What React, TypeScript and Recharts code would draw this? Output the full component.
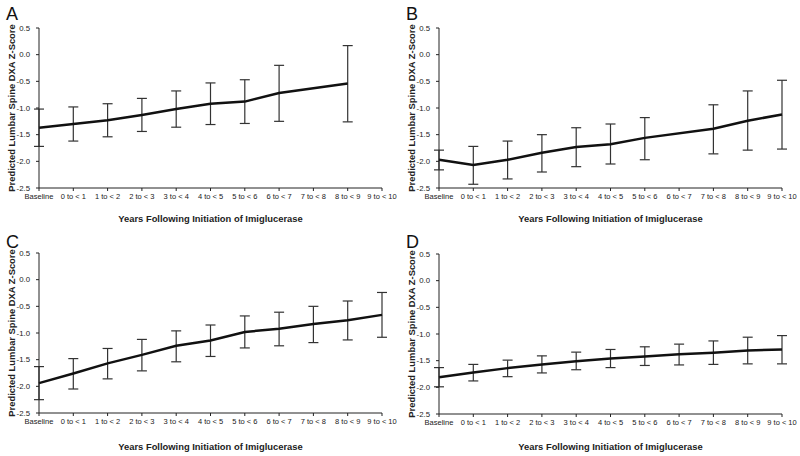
import React from 'react';
import { LineChart, Line, XAxis, YAxis, ErrorBar } from 'recharts';

const categories = ['Baseline', '0  to < 1', '1  to < 2', '2  to < 3', '3  to < 4', '4  to < 5', '5  to < 6', '6  to < 7', '7  to < 8', '8  to < 9', '9  to < 10'];
const yTicks = [-2.5, -2.0, -1.5, -1.0, -0.5, 0.0, 0.5];

// A
const meanA = [-1.37, -1.3, -1.23, -1.13, -1.02, -0.92, -0.88, -0.72, null, -0.54, null];
const lowA = [-1.72, -1.62, -1.54, -1.44, -1.36, -1.31, -1.29, -1.25, null, -1.26, null];
const highA = [-1.02, -0.98, -0.92, -0.82, -0.68, -0.53, -0.47, -0.2, null, 0.17, null];

// B
const meanB = [-1.97, -2.07, -1.97, -1.84, -1.73, -1.68, -1.56, null, -1.39, -1.24, -1.12];
const lowB = [-2.16, -2.43, -2.33, -2.2, -2.1, -2.05, -1.97, null, -1.86, -1.79, -1.77];
const highB = [-1.79, -1.72, -1.62, -1.5, -1.37, -1.3, -1.18, null, -0.94, -0.68, -0.48];

// C
const meanC = [-1.94, -1.76, -1.57, -1.41, -1.24, -1.14, -0.98, -0.92, -0.83, -0.76, -0.66];
const lowC = [-2.25, -2.05, -1.86, -1.71, -1.54, -1.44, -1.28, -1.24, -1.18, -1.13, -1.08];
const highC = [-1.63, -1.48, -1.29, -1.12, -0.96, -0.85, -0.68, -0.61, -0.5, -0.4, -0.24];

// D
const meanD = [-1.81, -1.72, -1.64, -1.57, -1.51, -1.46, -1.42, -1.38, -1.35, -1.31, -1.29];
const lowD = [-1.99, -1.88, -1.8, -1.73, -1.67, -1.63, -1.59, -1.58, -1.57, -1.56, -1.56];
const highD = [-1.63, -1.57, -1.49, -1.41, -1.34, -1.29, -1.24, -1.19, -1.13, -1.06, -1.03];

const font = '"Liberation Sans", Arial, sans-serif';

const buildData = (mean: (number | null)[], low: (number | null)[], high: (number | null)[]) =>
  categories.map((c, i) => {
    const m = mean[i];
    const l = low[i];
    const h = high[i];
    return {
      cat: c,
      mean: m,
      err: m == null || l == null || h == null ? undefined : [m - l, h - m],
    };
  });

const fmtY = (v: number) => v.toFixed(1);

interface PanelProps {
  letter: string;
  mean: (number | null)[];
  low: (number | null)[];
  high: (number | null)[];
  top: number;
}

const Panel: React.FC<PanelProps> = ({ letter, mean, low, high, top }) => {
  const data = buildData(mean, low, high);
  return (
    <div style={{ position: 'relative', width: 400, height: 228 }}>
      <div style={{ position: 'absolute', left: 6, top: 5, fontSize: 18, lineHeight: '18px', fontFamily: font, color: '#111' }}>
        {letter}
      </div>
      <LineChart width={400} height={228} data={data} margin={{ top, right: 18, bottom: 0, left: 0 }}>
        <XAxis
          dataKey="cat"
          height={228 - top - 160}
          interval={0}
          tickSize={3}
          tickMargin={3}
          stroke="#222"
          tick={{ fontSize: 7.5, fill: '#1a1a1a', fontFamily: font }}
          label={{ value: 'Years Following Initiation of Imiglucerase', position: 'insideBottom', offset: 6, style: { fontSize: 9.4, fontWeight: 'bold', fill: '#222', fontFamily: font } }}
        />
        <YAxis
          width={39}
          domain={[-2.5, 0.5]}
          ticks={yTicks}
          tickFormatter={fmtY}
          tickSize={3}
          tickMargin={6}
          stroke="#222"
          tick={{ fontSize: 7.8, fill: '#1a1a1a', fontFamily: font }}
          label={{ value: 'Predicted Lumbar Spine DXA Z-Score', angle: -90, position: 'insideLeft', offset: 12, style: { textAnchor: 'middle', fontSize: 9.4, fontWeight: 'bold', fill: '#222', fontFamily: font } }}
        />
        <Line type="linear" dataKey="mean" stroke="#111" strokeWidth={2.5} dot={false} connectNulls isAnimationActive={false}>
          <ErrorBar dataKey="err" direction="y" width={5} stroke="#333" strokeWidth={1.2} isAnimationActive={false} />
        </Line>
      </LineChart>
    </div>
  );
};

const App: React.FC = () => (
  <div style={{ position: 'absolute', left: 0, top: 0, width: 800, height: 456, background: '#fff', display: 'grid', gridTemplateColumns: '400px 400px', gridTemplateRows: '228px 228px' }}>
    <Panel letter="A" mean={meanA} low={lowA} high={highA} top={28} />
    <Panel letter="B" mean={meanB} low={lowB} high={highB} top={28} />
    <Panel letter="C" mean={meanC} low={lowC} high={highC} top={25} />
    <Panel letter="D" mean={meanD} low={lowD} high={highD} top={26} />
  </div>
);

export default App;
